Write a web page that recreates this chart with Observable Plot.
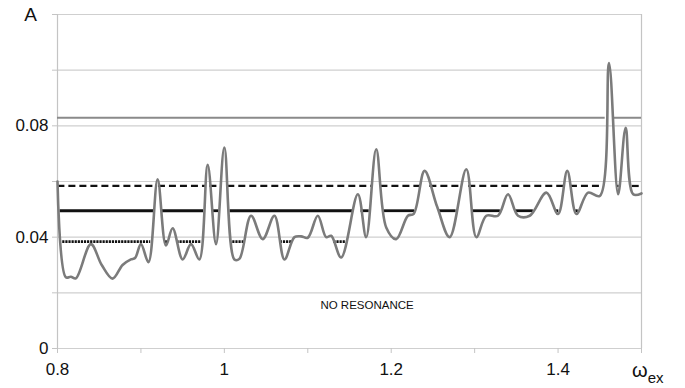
<!DOCTYPE html>
<html><head><meta charset="utf-8">
<script src="https://cdn.jsdelivr.net/npm/d3@7"></script>
<script src="https://cdn.jsdelivr.net/npm/@observablehq/plot@0.6"></script>
<style>
  html,body{margin:0;padding:0;background:#fff;}
  #chart svg{display:block;}
</style>
</head><body><div id="chart"></div>
<script>
// ---- data ----
const omega = [0.800,0.810,0.816,0.822,0.840,0.853,0.866,0.878,0.888,0.893,0.900,0.909,0.920,0.930,0.938,0.950,0.960,0.970,0.980,0.990,1.000,1.012,1.018,1.032,1.046,1.060,1.072,1.084,1.092,1.100,1.112,1.122,1.128,1.140,1.160,1.170,1.182,1.194,1.206,1.220,1.227,1.240,1.255,1.270,1.290,1.302,1.314,1.328,1.340,1.352,1.366,1.386,1.400,1.411,1.422,1.436,1.450,1.461,1.472,1.481,1.490,1.500];
const amplitude = [0.0600,0.0256,0.0258,0.0252,0.0375,0.0300,0.0251,0.0300,0.0320,0.0325,0.0375,0.0310,0.0608,0.0370,0.0432,0.0320,0.0375,0.0320,0.0660,0.0375,0.0722,0.0320,0.0322,0.0477,0.0393,0.0477,0.0320,0.0400,0.0403,0.0398,0.0477,0.0400,0.0405,0.0327,0.0554,0.0400,0.0716,0.0435,0.0393,0.0477,0.0484,0.0638,0.0510,0.0400,0.0644,0.0400,0.0477,0.0477,0.0554,0.0477,0.0477,0.0560,0.0483,0.0638,0.0483,0.0560,0.0548,0.1026,0.0554,0.0793,0.0554,0.0557];
const levelValues = [0.0829, 0.0584, 0.0495, 0.0384];
const xTickValues = [0.8,0.9,1.0,1.1,1.2,1.3,1.4,1.5];
const xTickLabels = ["0.8","","1","","1.2","","1.4",""];
const yTickValues = [0,0.02,0.04,0.06,0.08,0.10,0.12];
const yTickLabels = ["0","","0.04","","0.08","",""];
const yAxisTitle = "A";
const xAxisTitle = ["ω","ex"];
const annotation = "NO RESONANCE";

// ---- build ----
const pts = omega.map((x,i)=>({x, y: amplitude[i]}));

// each level line is drawn only where the curve lies below it
function belowSegments(level){
  const segs=[]; let start=null;
  for(let i=0;i<pts.length;i++){
    const p=pts[i];
    if(i===0){ if(p.y<level) start=p.x; continue; }
    const q=pts[i-1];
    const a=q.y<level, b=p.y<level;
    if(a!==b){
      const t=(level-q.y)/(p.y-q.y), xc=q.x+t*(p.x-q.x);
      if(b) start=xc; else { segs.push({x1:start,x2:xc,y:level}); start=null; }
    }
  }
  if(start!==null) segs.push({x1:start,x2:pts[pts.length-1].x,y:level});
  return segs;
}
const levelStyle = [
  {stroke:"#8a8a8a", strokeWidth:2},
  {stroke:"#111", strokeWidth:2.2, strokeDasharray:"7,4"},
  {stroke:"#111", strokeWidth:2.8},
  {stroke:"#111", strokeWidth:2.6, strokeDasharray:"2.2,0.9"}
];

const xFmt = d => xTickLabels[xTickValues.findIndex(v=>Math.abs(v-d)<1e-9)] ?? "";
const yFmt = d => yTickLabels[yTickValues.findIndex(v=>Math.abs(v-d)<1e-9)] ?? "";

const chart = Plot.plot({
  width: 685, height: 388,
  marginLeft: 57, marginRight: 44, marginTop: 14, marginBottom: 40,
  style: {fontFamily: "'Liberation Sans', Arial, sans-serif", fontSize: "17px", color: "#111", background: "#fff"},
  x: {domain: [0.8, 1.5]},
  y: {domain: [0, 0.12]},
  marks: [
    Plot.ruleY(yTickValues, {x1: 0.8, x2: 1.5, stroke: "#cfcfcf", strokeWidth: 1.2}),
    Plot.ruleX([0.8, 1.5], {y1: 0, y2: 0.12, stroke: "#c4c4c4", strokeWidth: 1.2}),
    Plot.axisY({ticks: yTickValues, tickFormat: yFmt, tickSize: 5, tickPadding: 4, stroke: "#c4c4c4", label: null, fontSize: 17}),
    Plot.axisX({ticks: xTickValues, tickFormat: xFmt, tickSize: 5, tickPadding: 9, stroke: "#c4c4c4", label: null, fontSize: 17}),
    ...levelValues.map((lv,i)=>Plot.ruleY(belowSegments(lv), {y:"y", x1:"x1", x2:"x2", ...levelStyle[i]})),
    Plot.line(pts, {x:"x", y:"y", curve:"catmull-rom", stroke:"#7b7b7b", strokeWidth:2.6}),
    Plot.text([annotation], {x: 1.171, y: 0.0154, text: d=>d, fontSize: 11.5, fill: "#111"}),
    Plot.text([yAxisTitle], {frameAnchor: "top-left", dx: -27, dy: 0, textAnchor: "middle", lineAnchor: "middle", text: d=>d, fontSize: 19, fill: "#111"})
  ]
});
document.getElementById("chart").appendChild(chart);

// axis title with subscript, positioned through the plot's own scales
const sx = chart.scale("x"), sy = chart.scale("y");
const svg = d3.select(chart);
const t = svg.append("text")
  .attr("x", sx.apply(1.5) - 9)
  .attr("y", sy.apply(0) + 29)
  .attr("text-anchor", "start")
  .attr("fill", "#111")
  .style("font-family", "'Liberation Sans', Arial, sans-serif");
t.append("tspan").attr("font-size", 20).text(xAxisTitle[0]);
t.append("tspan").attr("font-size", 15).attr("dy", 6).text(xAxisTitle[1]);
</script>
</body></html>
